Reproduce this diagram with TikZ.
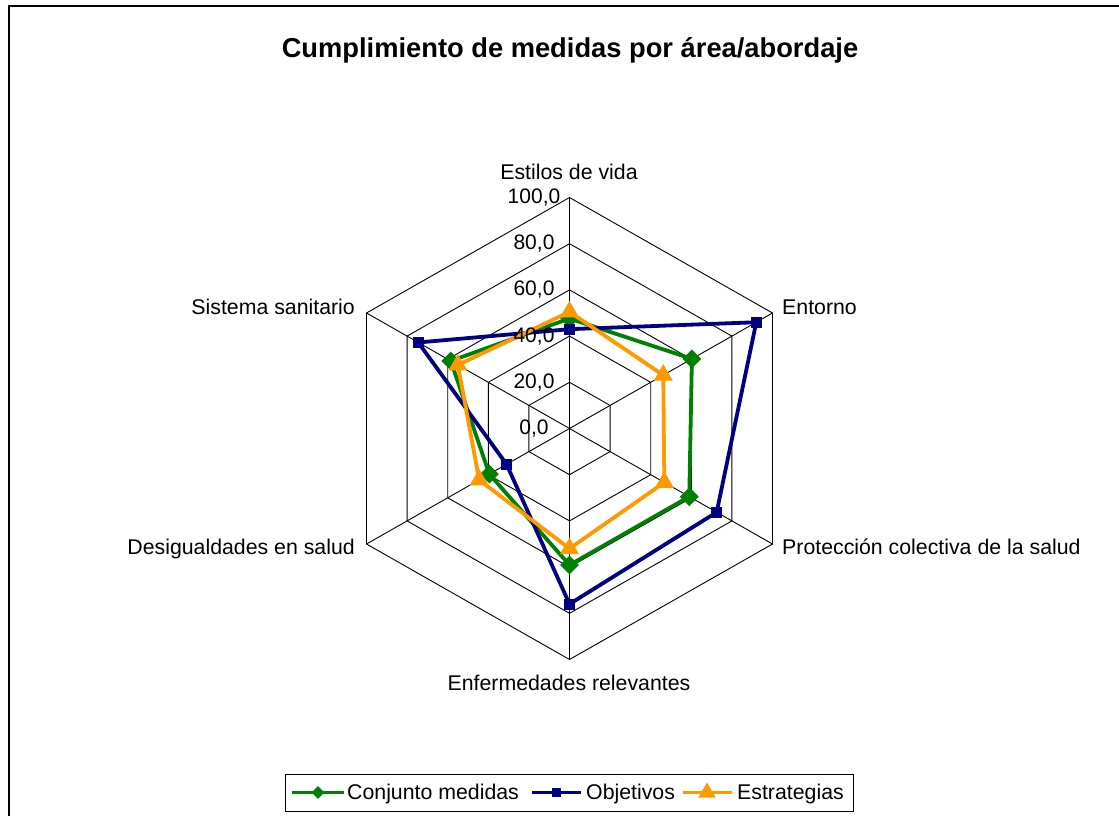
\documentclass[tikz,border=0pt]{standalone}
\usepackage{fontspec}
\setmainfont{Liberation Sans}
\usetikzlibrary{shapes.geometric}
\definecolor{cgreen}{RGB}{0,128,0}
\definecolor{cnavy}{RGB}{0,0,128}
\definecolor{corange}{RGB}{255,153,0}
\newcommand{\radpt}[3]{\coordinate (#1) at ({569.5+2.344*#3*cos(90-60*#2)},{428.5-2.31*#3*sin(90-60*#2)});}
\begin{document}
\begin{tikzpicture}[x=1pt,y=-1pt,
  gridline/.style={black,line width=0.9pt},
  serie/.style={line width=3.8pt,line join=round},
  lbl/.style={inner sep=0pt,font=\fontsize{21.3}{25}\selectfont},
  ticklbl/.style={inner sep=0pt,font=\fontsize{21}{25}\selectfont},
  mkdiam/.style={diamond,fill=cgreen,inner sep=0pt,minimum size=19pt},
  mksq/.style={rectangle,fill=cnavy,inner sep=0pt,minimum size=11pt},
  mktri/.style={regular polygon,regular polygon sides=3,fill=corange,inner sep=0pt,minimum size=22pt},
  mkdiamL/.style={diamond,fill=cgreen,inner sep=0pt,minimum size=13pt},
  mksqL/.style={rectangle,fill=cnavy,inner sep=0pt,minimum size=9pt},
  mktriL/.style={regular polygon,regular polygon sides=3,fill=corange,inner sep=0pt,minimum size=20pt}
]
\useasboundingbox[fill=white] (0,0) rectangle (1119,816);
% frame
\draw[line width=2pt] (9,816) -- (9,6) -- (1119,6);
% title
\node[inner sep=0pt,anchor=base,font=\fontsize{27.3}{32}\selectfont\bfseries] (title) at (570,58) {Cumplimiento de medidas por área/abordaje};
% grid
\coordinate (c) at (569.5,428.5);
\foreach \r in {20,40,60,80,100}{
  \foreach \k in {0,...,5}{\radpt{g\r-\k}{\k}{\r}}
  \draw[gridline] (g\r-0)--(g\r-1)--(g\r-2)--(g\r-3)--(g\r-4)--(g\r-5)--cycle;
}
\foreach \k in {0,...,5}{\draw[gridline] (c) -- (g100-\k);}
% category labels
\node[lbl,anchor=base] (l0) at (569,179) {Estilos de vida};
\node[lbl,anchor=base west] (l1) at (782,314) {Entorno};
\node[lbl,anchor=base west] (l2) at (782,554) {Protección colectiva de la salud};
\node[lbl,anchor=base] (l3) at (569,690) {Enfermedades relevantes};
\node[lbl,anchor=base east] (l4) at (355,554) {Desigualdades en salud};
\node[lbl,anchor=base east] (l5) at (355,314) {Sistema sanitario};
% data
\radpt{a0}{0}{47.6}\radpt{a1}{1}{60.3}\radpt{a2}{2}{59}\radpt{a3}{3}{59.1}\radpt{a4}{4}{39.5}\radpt{a5}{5}{58.5}
\radpt{b0}{0}{43}\radpt{b1}{1}{92}\radpt{b2}{2}{72.5}\radpt{b3}{3}{76}\radpt{b4}{4}{31}\radpt{b5}{5}{74.5}
\radpt{e0}{0}{50.5}\radpt{e1}{1}{46.2}\radpt{e2}{2}{46.7}\radpt{e3}{3}{52}\radpt{e4}{4}{44.5}\radpt{e5}{5}{55}
\draw[serie,cgreen] (a0)--(a1)--(a2)--(a3)--(a4)--(a5)--cycle;
\foreach \k in {0,...,5}{\node[mkdiam] (ma\k) at (a\k) {};}
\draw[serie,cnavy] (b0)--(b1)--(b2)--(b3)--(b4)--(b5)--cycle;
\foreach \k in {0,...,5}{\node[mksq] (mb\k) at (b\k) {};}
\draw[serie,corange] (e0)--(e1)--(e2)--(e3)--(e4)--(e5)--cycle;
\foreach \k in {0,...,5}{\node[mktri] (me\k) at (e\k) {};}
% tick labels
\node[ticklbl] (t0) at (534,428.5) {0,0};
\node[ticklbl] (t20) at (534,382.3) {20,0};
\node[ticklbl] (t40) at (534,336.1) {40,0};
\node[ticklbl] (t60) at (534,289.9) {60,0};
\node[ticklbl] (t80) at (534,243.7) {80,0};
\node[ticklbl] (t100) at (534,197.5) {100,0};
% legend
\node[draw=black,line width=0.9pt,minimum width=568pt,minimum height=37pt,inner sep=0pt] (leg) at (569,792.5) {};
\coordinate (lga) at (292,792.5); \coordinate (lgb) at (344,792.5);
\draw[serie,cgreen] (lga) -- (lgb);
\node[mkdiamL] (lma) at (318,792.5) {};
\node[lbl,anchor=base west] (lta) at (347,799) {Conjunto medidas};
\coordinate (lba) at (532,792.5); \coordinate (lbb) at (581,792.5);
\draw[serie,cnavy] (lba) -- (lbb);
\node[mksqL] (lmb) at (556,792.5) {};
\node[lbl,anchor=base west] (ltb) at (586,799) {Objetivos};
\coordinate (lea) at (683,792.5); \coordinate (leb) at (732,792.5);
\draw[serie,corange] (lea) -- (leb);
\node[mktriL] (lme) at (707,792.5) {};
\node[lbl,anchor=base west] (lte) at (737,799) {Estrategias};
\end{tikzpicture}
\end{document}
